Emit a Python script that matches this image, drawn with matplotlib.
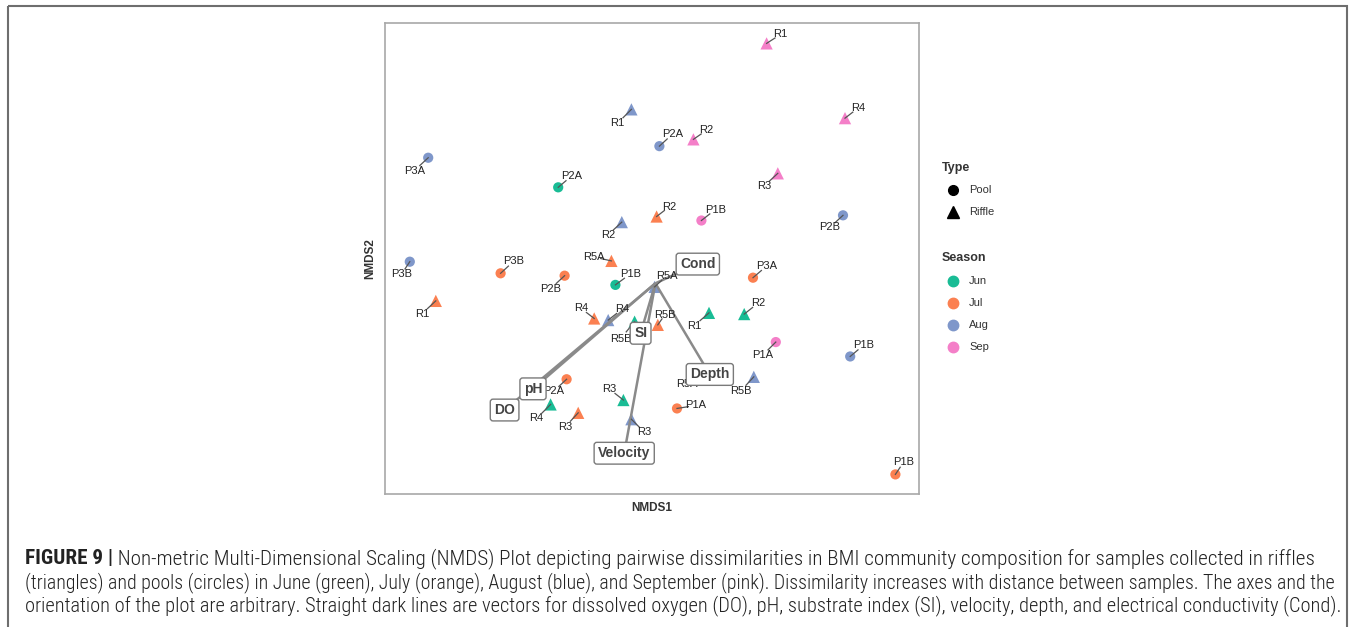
import matplotlib
matplotlib.use('Agg')
import matplotlib.pyplot as plt
from matplotlib import font_manager, transforms
from matplotlib.lines import Line2D
from matplotlib.patches import Rectangle

W, H, DPI = 1354, 627, 100

# ---------------- data ----------------
season = ['Jun'] * 8 + ['Jul'] * 12 + ['Aug'] * 11 + ['Sep'] * 6
stype = ['Pool', 'Pool', 'Riffle', 'Riffle', 'Riffle', 'Riffle', 'Riffle', 'Riffle',
         'Pool', 'Pool', 'Pool', 'Pool', 'Pool', 'Pool', 'Riffle', 'Riffle', 'Riffle', 'Riffle', 'Riffle', 'Riffle',
         'Pool', 'Pool', 'Pool', 'Pool', 'Pool', 'Riffle', 'Riffle', 'Riffle', 'Riffle', 'Riffle', 'Riffle',
         'Pool', 'Pool', 'Riffle', 'Riffle', 'Riffle', 'Riffle']
sample = ['P2A', 'P1B', 'R1', 'R2', 'R3', 'R4', 'R5A', 'R5B',
          'P1A', 'P1B', 'P2A', 'P2B', 'P3A', 'P3B', 'R1', 'R2', 'R3', 'R4', 'R5A', 'R5B',
          'P1B', 'P2A', 'P2B', 'P3A', 'P3B', 'R1', 'R2', 'R3', 'R4', 'R5A', 'R5B',
          'P1A', 'P1B', 'R1', 'R2', 'R3', 'R4']
nmds1 = [-0.243, -0.100, 0.134, 0.222, -0.080, -0.262, 0.126, -0.052,
         0.054, 0.600, -0.222, -0.227, 0.244, -0.387, -0.549, 0.003, -0.193, -0.153, -0.110, 0.006,
         0.487, 0.010, 0.469, -0.568, -0.614, -0.060, -0.084, -0.060, -0.118, -0.002, 0.246,
         0.301, 0.115, 0.278, 0.095, 0.306, 0.474]
nmds2 = [0.240, -0.004, -0.074, -0.077, -0.292, -0.303, -0.222, -0.096,
         -0.313, -0.478, -0.240, 0.019, 0.014, 0.025, -0.044, 0.167, -0.324, -0.088, 0.056, -0.104,
         -0.183, 0.343, 0.170, 0.314, 0.054, 0.435, 0.153, -0.340, -0.092, -0.009, -0.234,
         -0.147, 0.157, 0.600, 0.360, 0.275, 0.413]

vec_names = ['DO', 'pH', 'SI', 'Velocity', 'Depth', 'Cond']
vec_x = [-0.377, -0.306, -0.037, -0.078, 0.136, 0.106]
vec_y = [-0.317, -0.264, -0.125, -0.425, -0.228, 0.048]

season_levels = ['Jun', 'Jul', 'Aug', 'Sep']
type_levels = ['Pool', 'Riffle']

# ---------------- layout / style ----------------
season_colors = {'Jun': '#19BC95', 'Jul': '#FB8051', 'Aug': '#7F97CA', 'Sep': '#F47FC8'}
type_markers = {'Pool': 'o', 'Riffle': '^'}
type_sizes = {'Pool': 54, 'Riffle': 78}

# label offsets (pixels, x right / y up) for the repelled sample labels
label_off = [(13, 11), (15, 11), (-15, -13), (14, 11), (-14, 11), (-14, -14), (-19, -12), (-14, -17),
             (19, 3), (8, 12), (-13, -12), (-14, -13), (14, 12), (13, 12), (-14, -13), (13, 10), (-13, -14), (-13, 10), (-18, 4), (7, 10),
             (13, 11), (13, 12), (-13, -12), (-14, -13), (-8, -12), (-14, -14), (-14, -13), (13, -13), (14, 11), (12, 11), (-13, -14),
             (-13, -13), (14, 11), (14, 9), (13, 9), (-14, -13), (13, 10)]

base_font = 'Liberation Sans'
plt.rcParams['font.family'] = [base_font, 'DejaVu Sans']

fig = plt.figure(figsize=(W / DPI, H / DPI), dpi=DPI)
fig.patch.set_facecolor('white')
pxT = transforms.Affine2D().scale(1.0 / W, -1.0 / H).translate(0, 1) + fig.transFigure

# outer frame
fig.add_artist(Rectangle((8, 6), 1339, 700, transform=pxT, fill=False,
                         edgecolor='#6e6e6e', linewidth=1.5, clip_on=False))

# plot panel
L, R, T, B = 385, 919, 23, 494
ax = fig.add_axes([L / W, 1 - B / H, (R - L) / W, (B - T) / H])
ax.set_xlim(-0.676, 0.659)
ax.set_ylim(-0.527, 0.651)
ax.set_xticks([])
ax.set_yticks([])
for s in ax.spines.values():
    s.set_edgecolor('#a8a8a8')
    s.set_linewidth(1.2)

# vectors
for nm, vx, vy in zip(vec_names, vec_x, vec_y):
    ax.plot([0, vx], [0, vy], color='#8a8a8a', lw=1.8, zorder=3, solid_capstyle='butt')

# points
for st in season_levels:
    for ty in type_levels:
        xs = [x for x, s_, t_ in zip(nmds1, season, stype) if s_ == st and t_ == ty]
        ys = [y for y, s_, t_ in zip(nmds2, season, stype) if s_ == st and t_ == ty]
        ax.scatter(xs, ys, s=type_sizes[ty], marker=type_markers[ty],
                   color=season_colors[st], edgecolors='none', zorder=2)

# sample labels with short segments
for x, y, lab, (dx, dy) in zip(nmds1, nmds2, sample, label_off):
    p0 = ax.transData.transform((x, y))
    p1 = (p0[0] + dx * 0.6, p0[1] + dy * 0.6)
    q = ax.transData.inverted().transform(p1)
    ax.plot([x, q[0]], [y, q[1]], color='#555555', lw=0.9, zorder=4)
    ax.annotate(lab, (x, y), xytext=(dx * 0.72, dy * 0.72), textcoords='offset points',
                ha='center', va='center', fontsize=8, color='#222222', zorder=5)

# vector labels
for nm, vx, vy in zip(vec_names, vec_x, vec_y):
    ax.text(vx, vy, nm, ha='center', va='center', fontsize=10, fontweight='bold',
            color='#444444', zorder=6,
            bbox=dict(boxstyle='round,pad=0.28,rounding_size=0.2', facecolor='white',
                      edgecolor='#7a7a7a', linewidth=1.0))

# axis titles
fig.text(652, 508, 'NMDS1', transform=pxT, ha='center', va='center',
         fontsize=8.5, fontweight='bold', color='#333333')
fig.text(370, 259, 'NMDS2', transform=pxT, ha='center', va='center', rotation=90,
         fontsize=8.5, fontweight='bold', color='#333333')

# legend (drawn manually)
fig.text(942, 168, 'Type', transform=pxT, ha='left', va='center', fontsize=9,
         fontweight='bold', color='#333333')
for i, ty in enumerate(type_levels):
    yy = 190 + 22 * i
    fig.add_artist(Line2D([953], [yy], transform=pxT, marker=type_markers[ty], color='black',
                          markersize=7 if ty == 'Pool' else 8.5, linestyle='none'))
    fig.text(969, yy, ty, transform=pxT, ha='left', va='center', fontsize=8, color='#333333')
fig.text(942, 258, 'Season', transform=pxT, ha='left', va='center', fontsize=9,
         fontweight='bold', color='#333333')
for i, st in enumerate(season_levels):
    yy = 281 + 22 * i
    fig.add_artist(Line2D([953], [yy], transform=pxT, marker='o', color=season_colors[st],
                          markersize=7.5, linestyle='none'))
    fig.text(969, yy, st, transform=pxT, ha='left', va='center', fontsize=8, color='#333333')

# caption
def pick_font(cands):
    for c in cands:
        try:
            font_manager.findfont(font_manager.FontProperties(family=c), fallback_to_default=False)
            return c
        except Exception:
            pass
    return base_font

cap_font = pick_font(['Liberation Sans Narrow', 'Roboto Condensed', 'Open Sans Condensed', base_font])
cap_bold = 'FIGURE 9 |'
cap_lines = [
    ' Non-metric Multi-Dimensional Scaling (NMDS) Plot depicting pairwise dissimilarities in BMI community composition for samples collected in riffles',
    '(triangles) and pools (circles) in June (green), July (orange), August (blue), and September (pink). Dissimilarity increases with distance between samples. The axes and the',
    'orientation of the plot are arbitrary. Straight dark lines are vectors for dissolved oxygen (DO), pH, substrate index (SI), velocity, depth, and electrical conductivity (Cond).',
]
cap_y = [559, 583, 606]
cap_x0 = 25
cap_right = [1313, 1334, 1338]
cap_color = '#222222'

renderer = fig.canvas.get_renderer()

def width_of(s, fs, **kw):
    t = fig.text(0, 0, s, fontsize=fs, family=cap_font, transform=pxT, **kw)
    w = t.get_window_extent(renderer).width
    t.remove()
    return w

# line 1: bold prefix + regular text, fitted together
w_b = width_of(cap_bold, 12, fontweight='bold')
w_r = width_of(cap_lines[0], 12, fontweight='light')
fs1 = 12 * (cap_right[0] - cap_x0) / (w_b + w_r)
tb = fig.text(cap_x0, cap_y[0], cap_bold, transform=pxT, ha='left', va='center',
              fontsize=fs1, family=cap_font, fontweight='bold', color=cap_color)
bw = tb.get_window_extent(renderer).width
fig.text(cap_x0 + bw, cap_y[0], cap_lines[0], transform=pxT, ha='left', va='center',
         fontsize=fs1, family=cap_font, fontweight='light', color=cap_color)
for ln, yy, rr in zip(cap_lines[1:], cap_y[1:], cap_right[1:]):
    fs = 12 * (rr - cap_x0) / width_of(ln, 12, fontweight='light')
    fig.text(cap_x0, yy, ln, transform=pxT, ha='left', va='center',
             fontsize=fs, family=cap_font, fontweight='light', color=cap_color)

fig.savefig('out.png', dpi=DPI, facecolor='white')
